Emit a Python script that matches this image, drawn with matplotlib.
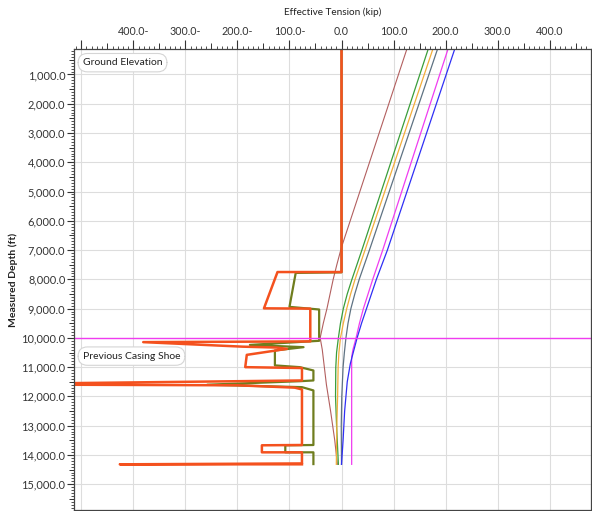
import numpy as np
import matplotlib
matplotlib.use("Agg")
import matplotlib.pyplot as plt
from matplotlib.ticker import MultipleLocator, FixedLocator, FuncFormatter

plt.rcParams['font.family'] = ['Lato', 'DejaVu Sans']

# measured depth (ft) vs effective tension (kip)
brown_depth = [0, 6900, 7500, 8000, 8500, 9000, 9500, 10000, 10400, 11000, 11600, 12500, 13500, 14320]
brown_kip = [128, 0, -9, -16, -22, -28, -35, -41, -37, -33, -29, -21, -13, -8]

green_depth = [0, 7007, 8000, 8500, 9000, 9500, 10000, 10500, 11000, 12000, 13000, 14320]
green_kip = [169, 39, 20, 11, 3.5, -2, -6, -9.5, -11, -11.5, -9.5, -6]

gold_depth = [0, 7007, 8000, 8500, 9000, 9500, 10000, 10500, 11000, 12000, 13000, 14320]
gold_kip = [178, 45, 26, 17.5, 10, 3.5, -2, -5, -6.5, -7.5, -9, -10]

gray_depth = [0, 7007, 8000, 8500, 9000, 9500, 10000, 10500, 11000, 12000, 13000, 14320]
gray_kip = [187, 53.5, 34, 25.5, 18, 12.5, 8.5, 5.5, 3, 0.5, -0.5, 0]

magenta_depth = [0, 7007, 8000, 9000, 9500, 10000, 10400, 10650, 14320]
magenta_kip = [207, 79, 60, 42, 34.5, 28, 22, 19.5, 19.5]

blue_depth = [0, 7007, 8000, 9000, 9500, 10000, 10400, 10875, 11500, 12500, 13500, 14320]
blue_kip = [220, 88, 67, 48, 38.5, 30, 24, 17, 11, 6, 3, 0]

olive_depth = [0, 7760, 7780, 8940, 9030, 10100, 10240, 10317, 10430, 10940, 11000, 11113,
               11455, 11480, 11600, 11683, 11795, 13660, 13670, 13910, 13910, 14311]
olive_kip = [0, 0, -88, -100, -43, -43, -176, -73, -128, -128, -80, -54,
             -54, -80, -258, -76, -54, -54, -108, -108, -54, -54]

orange_depth = [0, 7750, 7750, 8990, 9000, 10120, 10145, 10300, 10330, 10375, 10580, 11000, 11030,
                11455, 11550, 11600, 11620, 11700, 11760, 13660, 13670, 13910, 13910, 14290, 14320, 14320]
orange_kip = [0, 0, -123, -149, -60, -60, -381, -190, -125, -105, -182, -185, -76,
              -76, -540, -540, -200, -90, -76, -76, -153, -153, -76, -76, -426, -76]

casing_shoe = 10000
x_ticks = [-500, -400, -300, -200, -100, 0, 100, 200, 300, 400]
x_mid_ticks = [-450, -350, -250, -150, -50, 50, 150, 250, 350, 450]
y_ticks = list(range(1000, 16000, 1000))
y_mid_ticks = list(range(500, 16000, 1000))

fig = plt.figure(figsize=(5.92, 5.11), dpi=100)
ax = fig.add_axes([0.125, 0.002, 0.873, 0.9015])

ax.plot(brown_kip, brown_depth, color='#B25F5F', lw=0.8)
ax.plot(green_kip, green_depth, color='#3A9E3A', lw=0.9)
ax.plot(gold_kip, gold_depth, color='#F2AE3A', lw=0.9)
ax.plot(gray_kip, gray_depth, color='#5E7282', lw=0.9)
ax.plot(magenta_kip, magenta_depth, color='#F03CF0', lw=0.9)
ax.plot(blue_kip, blue_depth, color='#2F2FF5', lw=0.9)
ax.plot(olive_kip, olive_depth, color='#6F7D1E', lw=1.6)
ax.plot(orange_kip, orange_depth, color='#F4511E', lw=1.8)
ax.axhline(casing_shoe, color='#F03CF0', lw=1.0)

ax.set_xlim(-514, 479)
ax.set_ylim(15880, 140)

ax.xaxis.tick_top()
ax.xaxis.set_label_position('top')
ax.xaxis.set_major_locator(FixedLocator(x_ticks))
ax.xaxis.set_minor_locator(MultipleLocator(10))
ax.xaxis.set_major_formatter(FuncFormatter(
    lambda v, p: '' if v < -450 else (f"{-v:.1f}-" if v < -0.5 else f"{v:.1f}")))
ax.yaxis.set_major_locator(FixedLocator(y_ticks))
ax.yaxis.set_minor_locator(MultipleLocator(100))
ax.yaxis.set_major_formatter(FuncFormatter(lambda v, p: f"{v:,.1f}"))

ax.tick_params(axis='x', which='major', length=6.5, width=0.8, labelsize=7.7, colors='#333333', pad=2.5)
ax.tick_params(axis='y', which='major', length=5, width=0.8, labelsize=7.9, colors='#333333', pad=1.2)
ax.tick_params(which='minor', length=2.2, width=0.6, colors='#333333')
for s in ax.spines.values():
    s.set_color('#444444')
    s.set_linewidth(0.9)

# medium ticks half way between the labelled ones
secx = ax.secondary_xaxis('top')
secx.set_xticks(x_mid_ticks)
secx.tick_params(length=4, width=0.7, colors='#333333', labeltop=False)
secx.spines['top'].set_visible(False)
secy = ax.secondary_yaxis('left')
secy.set_yticks(y_mid_ticks)
secy.tick_params(length=3.5, width=0.7, colors='#333333', labelleft=False)
secy.spines['left'].set_visible(False)

ax.grid(True, which='major', color='#DDDDDD', lw=0.8)
ax.set_axisbelow(True)

ax.set_xlabel('Effective Tension (kip)', fontsize=7.2, color='#222222', labelpad=8)
ax.set_ylabel('Measured Depth (ft)', fontsize=7.5, color='#222222', fontweight='bold', labelpad=2)

box = dict(boxstyle='round,pad=0.45,rounding_size=0.9', fc='white', ec='#D5D5D5', lw=0.8)
ax.text(0.017, 0.971, 'Ground Elevation', transform=ax.transAxes, fontsize=7.5,
        va='center', ha='left', color='#222222', bbox=box)
ax.text(0.017, 0.334, 'Previous Casing Shoe', transform=ax.transAxes, fontsize=7.5,
        va='center', ha='left', color='#222222', bbox=box)

fig.savefig('out.png', dpi=100)
